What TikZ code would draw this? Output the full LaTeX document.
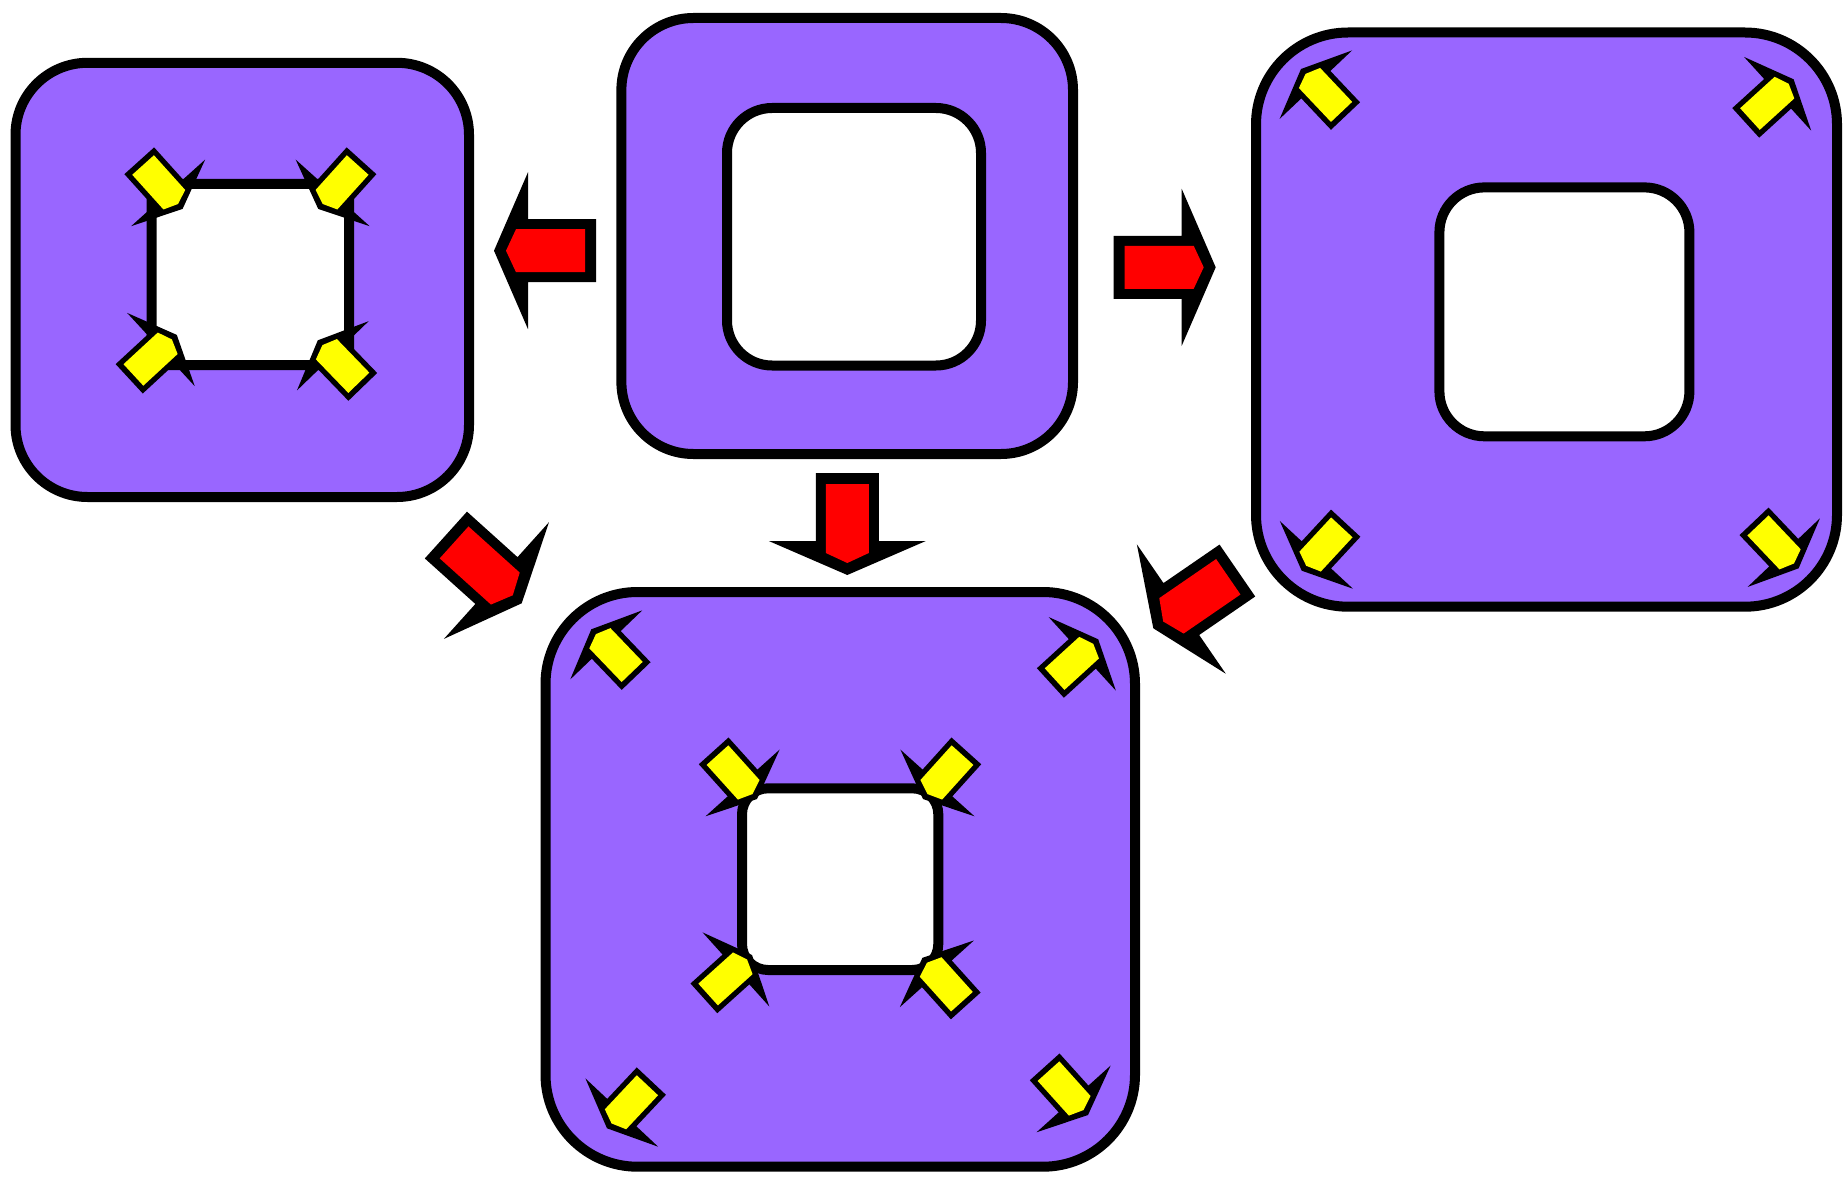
\documentclass[tikz,border=0pt]{standalone}
\usetikzlibrary{calc}
\definecolor{boxpurple}{HTML}{9966FF}
\definecolor{arrowred}{HTML}{FF0000}
\definecolor{arrowyellow}{HTML}{FFFF00}
\tikzset{
  panel/.style={draw=black, fill=boxpurple, line width=5pt},
  hole/.style={draw=black, fill=white, line width=5pt},
  bigarrow/.pic={
    \fill[black] (0,0) -- (-34,78.5) -- (-34,31.5) -- (-102,31.5) -- (-102,-31.5) -- (-34,-31.5) -- (-34,-78.5) -- cycle;
    \fill[arrowred] (-12,0) -- (-22,21.5) -- (-91,21.5) -- (-91,-21.5) -- (-22,-21.5) -- cycle;
  },
  smallarrow/.pic={
    \fill[black] (0,0) -- (-34,78.5) -- (-34,31.5) -- (-102,31.5) -- (-102,-31.5) -- (-34,-31.5) -- (-34,-78.5) -- cycle;
    \fill[arrowyellow] (-10.5,0) -- (-19.5,23) -- (-93,23) -- (-93,-23) -- (-19.5,-23) -- cycle;
  }
}
\begin{document}
\begin{tikzpicture}[x=0.5pt,y=-0.5pt]
\useasboundingbox (0,0) rectangle (1845,1182);
% panels
\draw[panel, rounded corners=36pt] (15.5,62.8) rectangle (469,497);
\draw[hole, rounded corners=7.5pt] (151.7,184) rectangle (349,365);
\draw[panel, rounded corners=36pt] (621.4,18) rectangle (1073,454);
\draw[hole, rounded corners=22.5pt] (727,108) rectangle (981,365.5);
\draw[panel, rounded corners=46pt] (1256,32.5) rectangle (1837,606.7);
\draw[hole, rounded corners=22.5pt] (1439.4,187.4) rectangle (1689.4,436.3);
\draw[panel, rounded corners=46pt] (545.5,592) rectangle (1135,1166.7);
\draw[hole, rounded corners=13pt] (742,788.3) rectangle (938.3,970);
% red arrows
\pic[rotate=180] at (494,250.7) {bigarrow};
\pic[rotate=0] at (1215.7,267.3) {bigarrow};
\pic[rotate=-90] at (847.3,575) {bigarrow};
\pic[rotate=-42] at (521.7,603.3) {bigarrow};
\pic[rotate=-145.5] at (1153.3,628.3) {bigarrow};
% yellow arrows, panel 1
\pic[scale=0.635,rotate=-48] at (182.6,208.9) {smallarrow};
\pic[scale=0.635,rotate=-132] at (318.2,208.9) {smallarrow};
\pic[scale=0.635,rotate=42.7] at (176.8,334.9) {smallarrow};
\pic[scale=0.635,rotate=134] at (317.8,340.3) {smallarrow};
% yellow arrows, panel 3
\pic[scale=0.635,rotate=133.4] at (1301,69) {smallarrow};
\pic[scale=0.635,rotate=42.3] at (1793.6,79.3) {smallarrow};
\pic[scale=0.635,rotate=-132.8] at (1301.7,570.7) {smallarrow};
\pic[scale=0.635,rotate=-46.5] at (1798.6,568.3) {smallarrow};
% yellow arrows, panel 4 outer
\pic[scale=0.635,rotate=133.8] at (591.3,629.3) {smallarrow};
\pic[scale=0.635,rotate=42.4] at (1098.2,639.3) {smallarrow};
\pic[scale=0.635,rotate=-133.2] at (607,1128.3) {smallarrow};
\pic[scale=0.635,rotate=-48] at (1088,1115) {smallarrow};
% yellow arrows, panel 4 inner
\pic[scale=0.635,rotate=-48] at (757,799) {smallarrow};
\pic[scale=0.635,rotate=-132] at (923,799) {smallarrow};
\pic[scale=0.635,rotate=42] at (752,955) {smallarrow};
\pic[scale=0.635,rotate=132] at (922.4,957.8) {smallarrow};
\end{tikzpicture}
\end{document}
